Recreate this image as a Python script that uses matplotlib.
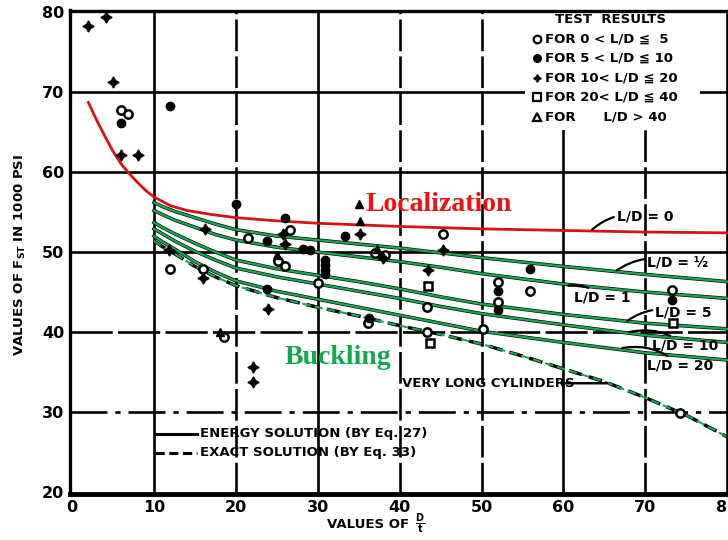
import matplotlib
matplotlib.use('Agg')  # no GUI
import matplotlib.pyplot as plt
import numpy as np

# -------------------------------------------------------------------------------
# Curve data (x = D/t, y = F_st in 1000 psi)
red_x = [2, 3, 4, 5, 6, 7, 8, 9, 10, 12, 14, 17, 20, 25, 30, 40, 50, 60, 70, 80]
red_y = [68.7, 66.5, 64.5, 62.6, 61.0, 59.8, 58.7, 57.7, 56.9, 55.8, 55.2, 54.7,
         54.3, 53.9, 53.6, 53.2, 52.9, 52.7, 52.5, 52.4]

green_x = [10, 11, 12.5, 15, 17.5, 20, 25, 30, 35, 40, 45, 50, 60, 70, 80]
ld_half = [56.2, 55.7, 55.1, 54.3, 53.5, 52.8, 52.0, 51.5, 51.0, 50.5, 49.9, 49.3, 48.2, 47.2, 46.3]
ld_one = [55.2, 54.7, 54.0, 53.1, 52.2, 51.5, 50.6, 50.0, 49.4, 48.8, 48.1, 47.3, 46.0, 45.0, 44.2]
ld_five = [53.7, 53.1, 52.3, 51.1, 50.0, 49.0, 47.9, 47.1, 46.3, 45.4, 44.4, 43.5, 42.2, 41.1, 40.4]
ld_ten = [52.9, 52.3, 51.4, 50.1, 49.0, 48.0, 46.9, 46.0, 45.1, 44.2, 43.2, 42.3, 40.9, 39.6, 38.7]
ld_twenty = [52.0, 51.3, 50.4, 48.8, 47.5, 46.4, 45.1, 44.1, 43.1, 42.1, 41.1, 40.1, 38.7, 37.4, 36.5]

long_x = [10, 11, 12.5, 15, 17.5, 20, 25, 30, 35, 40, 45, 50, 55, 60, 65, 70, 75, 80]
long_y = [51.4, 50.7, 49.8, 48.2, 46.9, 45.8, 44.3, 43.1, 42.0, 40.8, 39.7, 38.5,
          37.0, 35.4, 33.8, 31.8, 29.6, 26.9]

# Test results (scatter), grouped by L/D range
open_x = [6.0, 6.8, 12.0, 16.0, 21.5, 26.6, 25.2, 26.0, 30.0, 37.0, 38.2, 45.3,
          43.3, 43.3, 36.1, 50.2, 52.0, 52.0, 55.9, 73.3, 74.2, 18.6]
open_y = [67.8, 67.3, 47.9, 47.9, 51.8, 52.7, 48.9, 48.3, 46.1, 49.9, 49.6, 52.3,
          43.1, 40.0, 41.1, 40.4, 46.2, 43.8, 45.1, 45.3, 29.9, 39.4]
fill_x = [6.0, 12.0, 20.0, 23.8, 23.8, 26.0, 28.2, 29.1, 30.9, 30.9, 30.9, 30.9,
          33.3, 52.0, 52.0, 55.9, 73.3, 36.3]
fill_y = [66.1, 68.3, 56.0, 51.4, 45.4, 54.3, 50.4, 50.2, 49.0, 48.4, 47.7, 47.2,
          52.0, 45.1, 42.8, 47.9, 44.0, 41.8]
plus_x = [2.0, 4.2, 5.0, 6.0, 8.0, 16.2, 11.8, 16.0, 23.9, 22.1, 22.1, 35.2,
          25.8, 26.0, 38.0, 45.3, 43.5]
plus_y = [78.2, 79.4, 71.2, 62.1, 62.1, 52.9, 50.2, 46.8, 42.9, 35.6, 33.8, 52.3,
          52.3, 51.0, 49.2, 50.2, 47.7]
sq_x = [43.5, 43.7, 73.4]
sq_y = [45.8, 38.6, 41.1]
tri_x = [35.0, 35.2, 37.2, 25.0, 18.1]
tri_y = [56.0, 53.9, 50.4, 49.6, 40.0]

legend_rows = ['FOR 0 < L/D \u2266  5', 'FOR 5 < L/D \u2266 10', 'FOR 10< L/D \u2266 20',
               'FOR 20< L/D \u2266 40', 'FOR      L/D > 40']
# -------------------------------------------------------------------------------

GREEN = '#1ea552'
RED = '#d4141a'
FONT = dict(fontweight='bold', family='DejaVu Sans')

fig = plt.figure(figsize=(7.28, 5.40), dpi=100)
ax = fig.add_axes([70 / 728, 46 / 540, 658 / 728, 483.5 / 540])
ax.set_xlim(-0.25, 80.1)
ax.set_ylim(19.75, 80.2)

# grid, drawn by hand so some lines can be broken like on the scan
for gx in range(10, 81, 10):
  ls = '-' if gx in (10, 30, 60, 80) else (0, (12, 2))
  ax.axvline(gx, color='black', lw=1.9, ls=ls, zorder=1)
for gy in range(30, 80, 10):
  if gy == 30:
    ls = (0, (14, 3, 2, 3))
  elif gy == 40:
    ls = (0, (16, 2))
  else:
    ls = '-'
  ax.axhline(gy, color='black', lw=1.9, ls=ls, zorder=1)

# white patch behind the test results key
ax.add_patch(plt.Rectangle((55.3, 65.3), 21.4, 15.5, facecolor='white',
                           edgecolor='none', zorder=2))

for sp in ('left', 'top'):
  ax.spines[sp].set_linewidth(2.4)
ax.spines['bottom'].set_linewidth(3.5)
ax.spines['right'].set_visible(False)

ax.set_xticks(range(0, 81, 10))
ax.set_yticks(range(20, 81, 10))
ax.tick_params(length=0, labelsize=11.5, pad=4)
for lab in ax.get_xticklabels() + ax.get_yticklabels():
  lab.set_fontweight('bold')

# curves
ax.plot(red_x, red_y, color=RED, lw=2.0, zorder=4)
for ys in (ld_half, ld_one, ld_five, ld_ten, ld_twenty):
  ax.plot(green_x, ys, color='black', lw=2.5, zorder=3)
  ax.plot(green_x, ys, color=GREEN, lw=1.6, zorder=4)
ax.plot(long_x, long_y, color='black', lw=2.5, ls=(0, (4, 2)), zorder=3)
ax.plot(long_x, long_y, color=GREEN, lw=1.5, ls=(0, (4, 2)), zorder=4)

# test points
ms = 6
ax.plot(open_x, open_y, 'o', ms=ms, mfc='white', mec='black', mew=1.8, zorder=5)
ax.plot(fill_x, fill_y, 'o', ms=ms, mfc='black', mec='black', zorder=5)
ax.plot(plus_x, plus_y, marker=(4, 1, 0), ls='none', ms=8, color='black', zorder=5)
ax.plot(sq_x, sq_y, 's', ms=ms, mfc='white', mec='black', mew=1.8, zorder=5)
ax.plot(tri_x, tri_y, '^', ms=ms, color='black', zorder=5)

# test results key
ax.text(65.7, 79.1, 'TEST  RESULTS', ha='center', va='center', fontsize=9.5, zorder=6, **FONT)
key_y = [76.6, 74.3, 71.7, 69.4, 66.9]
key_mk = [dict(marker='o', mfc='white', mec='black', mew=1.6),
          dict(marker='o', mfc='black', mec='black'),
          dict(marker=(4, 1, 0), color='black'),
          dict(marker='s', mfc='white', mec='black', mew=1.6),
          dict(marker='^', mfc='white', mec='black', mew=1.6)]
for ky, mk, txt in zip(key_y, key_mk, legend_rows):
  ax.plot([56.8], [ky], ms=5.5, ls='none', zorder=6, **mk)
  ax.text(57.8, ky, txt, ha='left', va='center', fontsize=9.5, zorder=6, **FONT)

# solution key
ax.plot([10.1, 15.2], [27.3, 27.3], color='black', lw=2.2, zorder=5)
ax.text(15.6, 27.3, 'ENERGY SOLUTION (BY Eq. 27)', ha='left', va='center',
        fontsize=9.5, zorder=6, **FONT)
ax.plot([10.1, 15.2], [24.9, 24.9], color='black', lw=2.2, ls=(0, (3, 1.5)), zorder=5)
ax.text(15.6, 24.9, 'EXACT SOLUTION (BY Eq. 33)', ha='left', va='center',
        fontsize=9.5, zorder=6, **FONT)

# very long cylinders label
ax.text(40.3, 33.6, 'VERY LONG CYLINDERS', ha='left', va='center', fontsize=9.5,
        zorder=6, **FONT)
ax.annotate('', xy=(65.7, 33.6), xytext=(59.8, 33.6),
            arrowprops=dict(arrowstyle='-', lw=1.8, color='black'), zorder=6)

# curve labels with leaders
curve_labels = [('L/D = 0', (63.5, 52.8), (66.5, 54.5)),
                ('L/D = \u00bd', (66.5, 47.7), (70.2, 48.7)),
                ('L/D = 1', (60.6, 45.8), (61.3, 44.3)),
                ('L/D = 5', (67.8, 41.4), (71.2, 42.4)),
                ('L/D = 10', (68.1, 40.0), (70.8, 38.3)),
                ('L/D = 20', (67.2, 38.0), (70.2, 35.8))]
for txt, pt, tp in curve_labels:
  ax.annotate(txt, xy=pt, xytext=tp, ha='left', va='center', fontsize=10,
              arrowprops=dict(arrowstyle='-', lw=1.6, color='black',
                              connectionstyle='arc3,rad=0.25', shrinkA=0, shrinkB=0),
              zorder=6, **FONT)

# overlay annotations
ax.text(35.8, 56.0, 'Localization', color='#ee1111', fontsize=20, fontweight='bold',
        family='Liberation Serif', ha='left', va='center', zorder=7)
ax.text(26.0, 36.8, 'Buckling', color='#12a84f', fontsize=20, fontweight='bold',
        family='Liberation Serif', ha='left', va='center', zorder=7)

# axis titles
fig.text(368 / 728, 1 - 524 / 540, 'VALUES OF', ha='center', va='center',
         fontsize=9.5, **FONT)
fig.text(420 / 728, 1 - 524 / 540, r'$\mathbf{\frac{D}{t}}$', ha='center',
         va='center', fontsize=10, **FONT)
fig.text(20 / 728, 1 - 255 / 540, r'VALUES OF F$_{\mathbf{ST}}$ IN 1000 PSI', rotation=90,
         ha='center', va='center', fontsize=9.5, **FONT)

plt.savefig('out.png', dpi=100)
plt.close('all')
